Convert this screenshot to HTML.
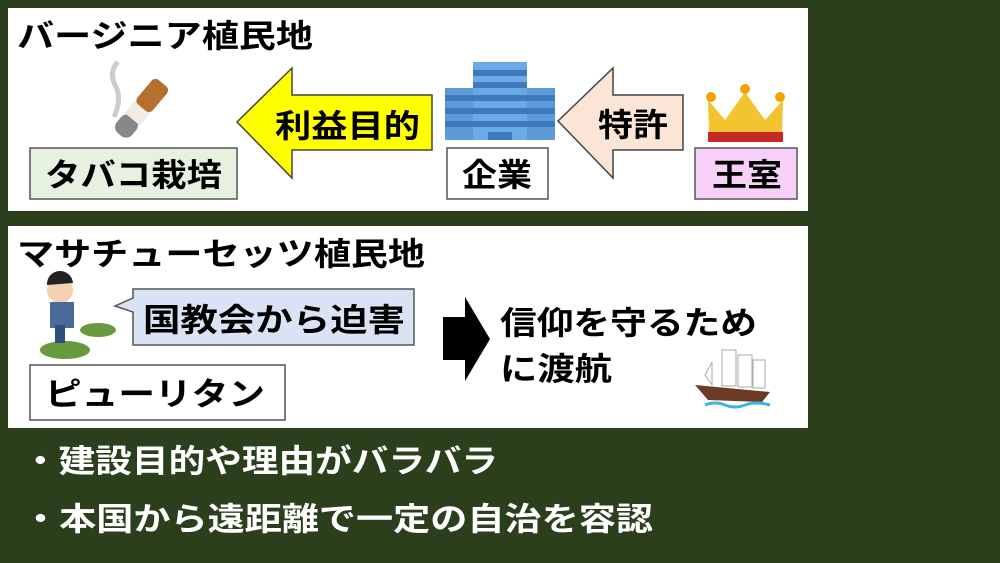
<!DOCTYPE html>
<html><head><meta charset="utf-8"><style>
html,body{margin:0;padding:0;background:#2b3f1d;}
svg{display:block;}
text{font-family:"Liberation Sans","Noto Sans CJK JP",sans-serif;font-weight:bold;}
</style></head><body>
<svg width="1000" height="563" viewBox="0 0 1000 563" xmlns="http://www.w3.org/2000/svg">
<rect width="1000" height="563" fill="#2b3f1d"/>
<!-- top panel -->
<rect x="8" y="8" width="800" height="203" fill="#fff"/>
<text x="17" y="47" font-size="32" textLength="296" lengthAdjust="spacingAndGlyphs">バージニア植民地</text>
<!-- cigarette -->
<path d="M118 62 q-10 10 -2 25 q6 12 -2 30" stroke="#ccc" stroke-width="5" fill="none"/>
<g transform="rotate(-50 140 110)">
<rect x="108" y="100" width="22" height="20" rx="8" fill="#888"/>
<rect x="128" y="100" width="16" height="20" fill="#f3ece2"/>
<rect x="143" y="100" width="32" height="20" rx="5" fill="#b5702f"/>
</g>
<rect x="30" y="148" width="207" height="51" fill="#e7f1e0" stroke="#555" stroke-width="1.5"/>
<text x="45" y="186" font-size="32" textLength="177" lengthAdjust="spacingAndGlyphs">タバコ栽培</text>
<polygon points="237,122 292,68 292,95 432,95 432,150 292,150 292,178" fill="#ffff00" stroke="#444" stroke-width="1.5"/>
<text x="275" y="137" font-size="32" textLength="145" lengthAdjust="spacingAndGlyphs">利益目的</text>
<!-- building -->
<rect x="445" y="88" width="35" height="52" fill="#5d9bd8"/>
<rect x="520" y="88" width="35" height="52" fill="#5d9bd8"/>
<rect x="473" y="62" width="54" height="78" fill="#6aaae6"/>
<g fill="#3f78bb"><rect x="445" y="95" width="110" height="6"/><rect x="445" y="108" width="110" height="6"/><rect x="445" y="121" width="110" height="6"/><rect x="473" y="70" width="54" height="6"/><rect x="473" y="82" width="54" height="6"/><rect x="488" y="132" width="24" height="8"/></g>
<rect x="447" y="148" width="101" height="51" fill="#fff" stroke="#555" stroke-width="1.5"/>
<text x="462" y="186" font-size="32" textLength="70" lengthAdjust="spacingAndGlyphs">企業</text>
<polygon points="558,121 613,68 613,95 683,95 683,150 613,150 613,178" fill="#fbe5d6" stroke="#444" stroke-width="1.5"/>
<text x="598" y="136" font-size="32" textLength="70" lengthAdjust="spacingAndGlyphs">特許</text>
<!-- crown -->
<polygon points="708,100 725,120 745,92 765,120 783,100 782,135 709,135" fill="#f4c430"/>
<rect x="708" y="132" width="75" height="10" fill="#c62828"/>
<circle cx="711" cy="97" r="5" fill="#f4a300"/><circle cx="745" cy="89" r="5" fill="#f4a300"/><circle cx="780" cy="97" r="5" fill="#f4a300"/>
<rect x="695" y="148" width="102" height="51" fill="#f7d0f8" stroke="#555" stroke-width="1.5"/>
<text x="712" y="186" font-size="32" textLength="70" lengthAdjust="spacingAndGlyphs">王室</text>
<!-- bottom panel -->
<rect x="8" y="226" width="800" height="202" fill="#fff"/>
<text x="17" y="265" font-size="32" textLength="408" lengthAdjust="spacingAndGlyphs">マサチューセッツ植民地</text>
<!-- person -->
<ellipse cx="65" cy="350" rx="25" ry="9" fill="#6a9a3f"/><ellipse cx="98" cy="330" rx="18" ry="7" fill="#6a9a3f"/>
<circle cx="60" cy="290" r="13" fill="#f5d0b0"/><path d="M47 285 a13 13 0 0 1 26 -2" fill="#222"/>
<rect x="50" y="302" width="24" height="26" fill="#4a6a9a"/><rect x="55" y="325" width="10" height="18" fill="#2f4f7a"/>
<polygon points="133,289 133,298 115,306 133,312 133,345 414,345 414,289" fill="#dae3f3" stroke="#555" stroke-width="1.5"/>
<text x="143" y="331" font-size="32" textLength="262" lengthAdjust="spacingAndGlyphs">国教会から迫害</text>
<rect x="30" y="365" width="255" height="55" fill="#fff" stroke="#555" stroke-width="1.5"/>
<text x="45" y="405" font-size="32" textLength="220" lengthAdjust="spacingAndGlyphs">ピューリタン</text>
<polygon points="443,317 465,317 465,297 490,339 465,381 465,360 443,360" fill="#000"/>
<text x="500" y="334" font-size="32" textLength="257" lengthAdjust="spacingAndGlyphs">信仰を守るため</text>
<text x="500" y="380" font-size="32" textLength="112" lengthAdjust="spacingAndGlyphs">に渡航</text>
<!-- ship -->
<g>
<polygon points="695,385 770,392 762,402 708,400" fill="#6b3a22"/>
<rect x="722" y="350" width="14" height="36" fill="#fff" stroke="#aaa"/>
<rect x="738" y="355" width="14" height="32" fill="#fff" stroke="#aaa"/>
<rect x="753" y="360" width="12" height="28" fill="#fff" stroke="#aaa"/>
<polygon points="712,385 705,375 712,362" fill="#fff" stroke="#aaa"/>
<path d="M705 405 q10 -4 20 0 q10 4 20 0 q10 -4 25 0" stroke="#3fb3e0" stroke-width="3" fill="none"/>
</g>
<!-- bullets -->
<text x="22" y="472" font-size="32" fill="#fff" textLength="476" lengthAdjust="spacingAndGlyphs">・建設目的や理由がバラバラ</text>
<text x="22" y="530" font-size="32" fill="#fff" textLength="631" lengthAdjust="spacingAndGlyphs">・本国から遠距離で一定の自治を容認</text>
</svg>
</body></html>
